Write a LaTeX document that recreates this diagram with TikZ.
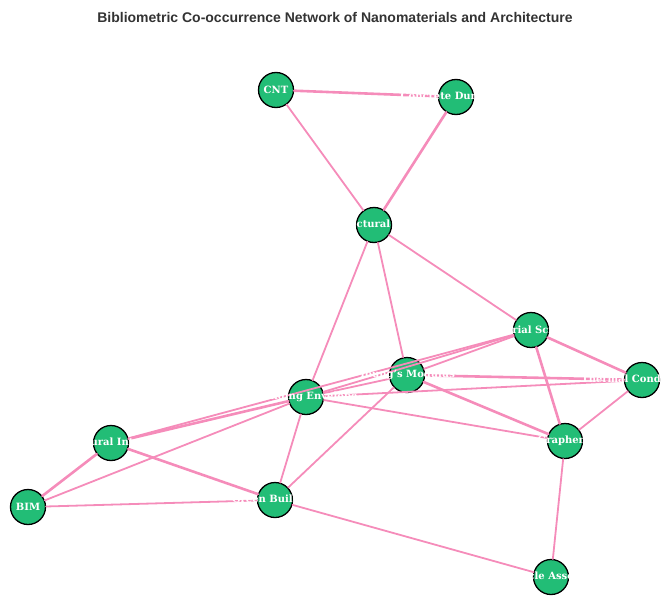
\documentclass[tikz,border=0pt]{standalone}
\usepackage{fontspec}
\setmainfont{DejaVu Serif}
\newfontfamily\titlefont{Liberation Sans}
\definecolor{linkpink}{RGB}{245,140,186}
\definecolor{hubgreen}{RGB}{34,189,118}
\definecolor{titlegray}{RGB}{51,51,51}

\begin{document}
\begin{tikzpicture}[
  x=1pt, y=-1pt, line cap=round, line join=round,
  hub/.style={circle, draw=black, line width=1.3pt, fill=hubgreen,
              minimum size=35pt, inner sep=0pt},
  tag/.style={text=white, font=\bfseries\fontsize{10}{11}\selectfont, inner sep=0pt},
  link/.style={draw=linkpink, line width=1.8pt},
  heavy/.style={link, line width=2.6pt}
]
  \useasboundingbox (0,0) rectangle (663,602);

  % ── Title ─────────────────────────────────────────────────────────────────
  \node[font=\titlefont\bfseries\fontsize{14}{16}\selectfont, text=titlegray]
      (title) at (335,17) {Bibliometric Co-occurrence Network of Nanomaterials and Architecture};

  % ── Keyword nodes ─────────────────────────────────────────────────────────
  \node[hub] (cnt)  at (276,90)  {};
  \node[hub] (cdur) at (456,97)  {};
  \node[hub] (arch) at (374,225) {};
  \node[hub] (msci) at (531,330) {};
  \node[hub] (tcon) at (642,380) {};
  \node[hub] (ymod) at (407,375) {};
  \node[hub] (benv) at (306,397) {};
  \node[hub] (sint) at (111,443) {};
  \node[hub] (bim)  at (28,507)  {};
  \node[hub] (gbld) at (275,500) {};
  \node[hub] (grph) at (565,441) {};
  \node[hub] (pasm) at (551,577) {};

  % ── Co-occurrence links ───────────────────────────────────────────────────
  \draw[heavy] (cnt) -- (cdur);
  \draw[link]  (cnt) -- (arch);
  \draw[heavy] (cdur) -- (arch);
  \draw[link]  (arch) -- (msci);
  \draw[link]  (arch) -- (benv);
  \draw[link]  (arch) -- (ymod);

  \draw[heavy] (msci) -- (tcon);
  \draw[heavy] (msci) -- (grph);
  \draw[link]  (msci) -- (ymod);
  \draw[link]  (msci) -- (benv);
  \draw[link]  (msci) -- (sint);

  \draw[heavy] (tcon) -- (ymod);
  \draw[link]  (tcon) -- (benv);
  \draw[link]  (tcon) -- (grph);

  \draw[heavy] (ymod) -- (grph);
  \draw[link]  (ymod) -- (gbld);
  \draw[link]  (ymod) -- (benv);

  \draw[link]  (benv) -- (grph);
  \draw[heavy] (benv) -- (sint);
  \draw[link]  (benv) -- (bim);
  \draw[link]  (benv) -- (gbld);

  \draw[heavy] (sint) -- (bim);
  \draw[heavy] (sint) -- (gbld);
  \draw[link]  (bim)  -- (gbld);
  \draw[link]  (gbld) -- (pasm);
  \draw[link]  (grph) -- (pasm);

  % ── Labels (white, on top of links) ───────────────────────────────────────
  \foreach \hubname/\hubtext in {cnt/CNT, cdur/Concrete Durability,
      arch/Architectural Design, msci/Material Science,
      tcon/Thermal Conductivity, ymod/Young's Modulus,
      benv/Building Envelope, sint/Structural Integrity, bim/BIM,
      gbld/Green Building, grph/Graphene, pasm/Particle Assembly}
    \node[tag] (\hubname-tag) at (\hubname) {\hubtext};

\end{tikzpicture}
\end{document}
